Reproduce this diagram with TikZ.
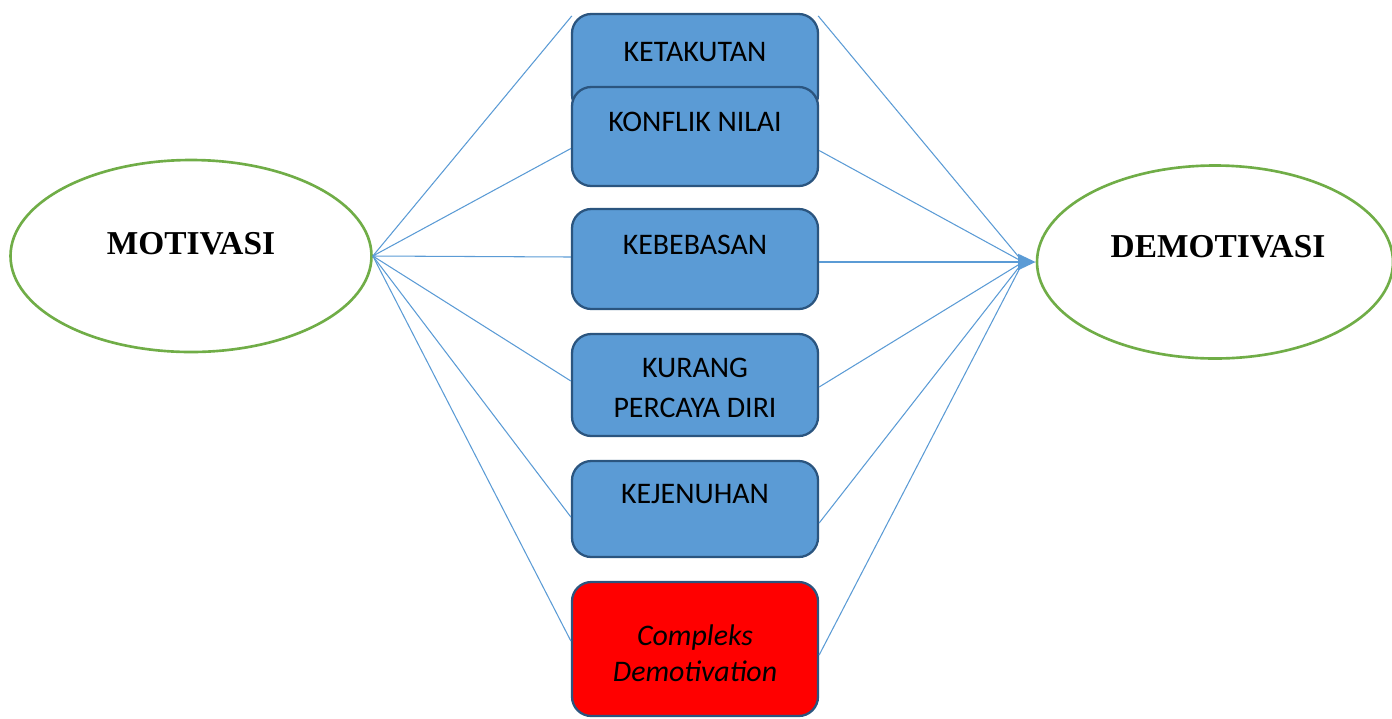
\documentclass[tikz,border=0pt]{standalone}
\usepackage{fontspec}
\setmainfont{Carlito}
\newfontfamily\titlefont{Liberation Serif}
\usepackage{xcolor}
\usetikzlibrary{positioning,shapes.geometric,arrows.meta,calc}

\definecolor{boxblue}{HTML}{5B9BD5}
\definecolor{boxedge}{HTML}{2B557F}
\definecolor{ovalgreen}{HTML}{70AD47}

\begin{document}
\begin{tikzpicture}[x=0.02cm,y=-0.02cm,
  oval/.style={draw=ovalgreen,line width=1.5pt,ellipse,fill=white,inner sep=0pt},
  box/.style={draw=boxedge,line width=1.3pt,fill=boxblue,rounded corners=11pt,
    minimum width=246*0.02cm,inner sep=0pt},
  boxtext/.style={font=\fontsize{17}{23}\selectfont,align=center,inner sep=0pt},
  title/.style={font=\titlefont\bfseries\fontsize{19}{22}\selectfont},
  link/.style={draw=boxblue,line width=0.6pt}]
  \useasboundingbox (0,0) rectangle (1392,718);
  % the two ovals
  \node[oval,minimum width=361*0.02cm,minimum height=192*0.02cm] (motivasi) at (191,256) {};
  \node[title] (motivasi-t) at (191,244) {MOTIVASI};
  \node[oval,minimum width=356*0.02cm,minimum height=193*0.02cm] (demotivasi) at (1215,262) {};
  \node[title] (demotivasi-t) at (1218,247) {DEMOTIVASI};
  % factor boxes, top to bottom
  \node[box,minimum height=100*0.02cm] (ketakutan) at (695,64) {};
  \node[box,minimum height=99*0.02cm] (konflik) at (695,136.5) {};
  \node[box,minimum height=100*0.02cm] (kebebasan) at (695,259) {};
  \node[box,minimum height=102*0.02cm] (kurang) at (695,385) {};
  \node[box,minimum height=96*0.02cm] (kejenuhan) at (695,509) {};
  \node[box,fill=red,minimum height=134*0.02cm] (compleks) at (695,649) {};
  \node[boxtext] (ketakutan-t) at (695,52) {KETAKUTAN};
  \node[boxtext] (konflik-t) at (695,122) {KONFLIK NILAI};
  \node[boxtext] (kebebasan-t) at (695,245) {KEBEBASAN};
  \node[boxtext] (kurang-t) at (695,388) {KURANG\\PERCAYA DIRI};
  \node[boxtext,font=\fontsize{17}{20.5}\selectfont\itshape] (compleks-t) at (695,653) {Compleks\\Demotivation};
  \node[boxtext] (kejenuhan-t) at (695,494) {KEJENUHAN};
  % fan out from MOTIVASI, fan in to DEMOTIVASI
  % offsets: where each line meets the box side (left/right)
  \coordinate (meet) at (1023,262);
  \coordinate (tail) at (968,262);
  \draw[link] (motivasi.east) -- ($(ketakutan.north west)+(1,3)$);
  \draw[link] ($(ketakutan.north east)+(-1,3)$) -- (meet);
  \foreach \b/\dl/\dr in {konflik/12/14,kebebasan/-2/3,kurang/-4/2,kejenuhan/8/14,compleks/-8/6}{
    \draw[link] (motivasi.east) -- ($(\b.west)+(0,\dl)$);
    \draw[link] ($(\b.east)+(0,\dr)$) -- (meet);
  }
  \draw[boxblue,line width=1.5pt,-{Triangle[length=10pt,width=9pt]}] (tail) -- (demotivasi.west);
\end{tikzpicture}
\end{document}
